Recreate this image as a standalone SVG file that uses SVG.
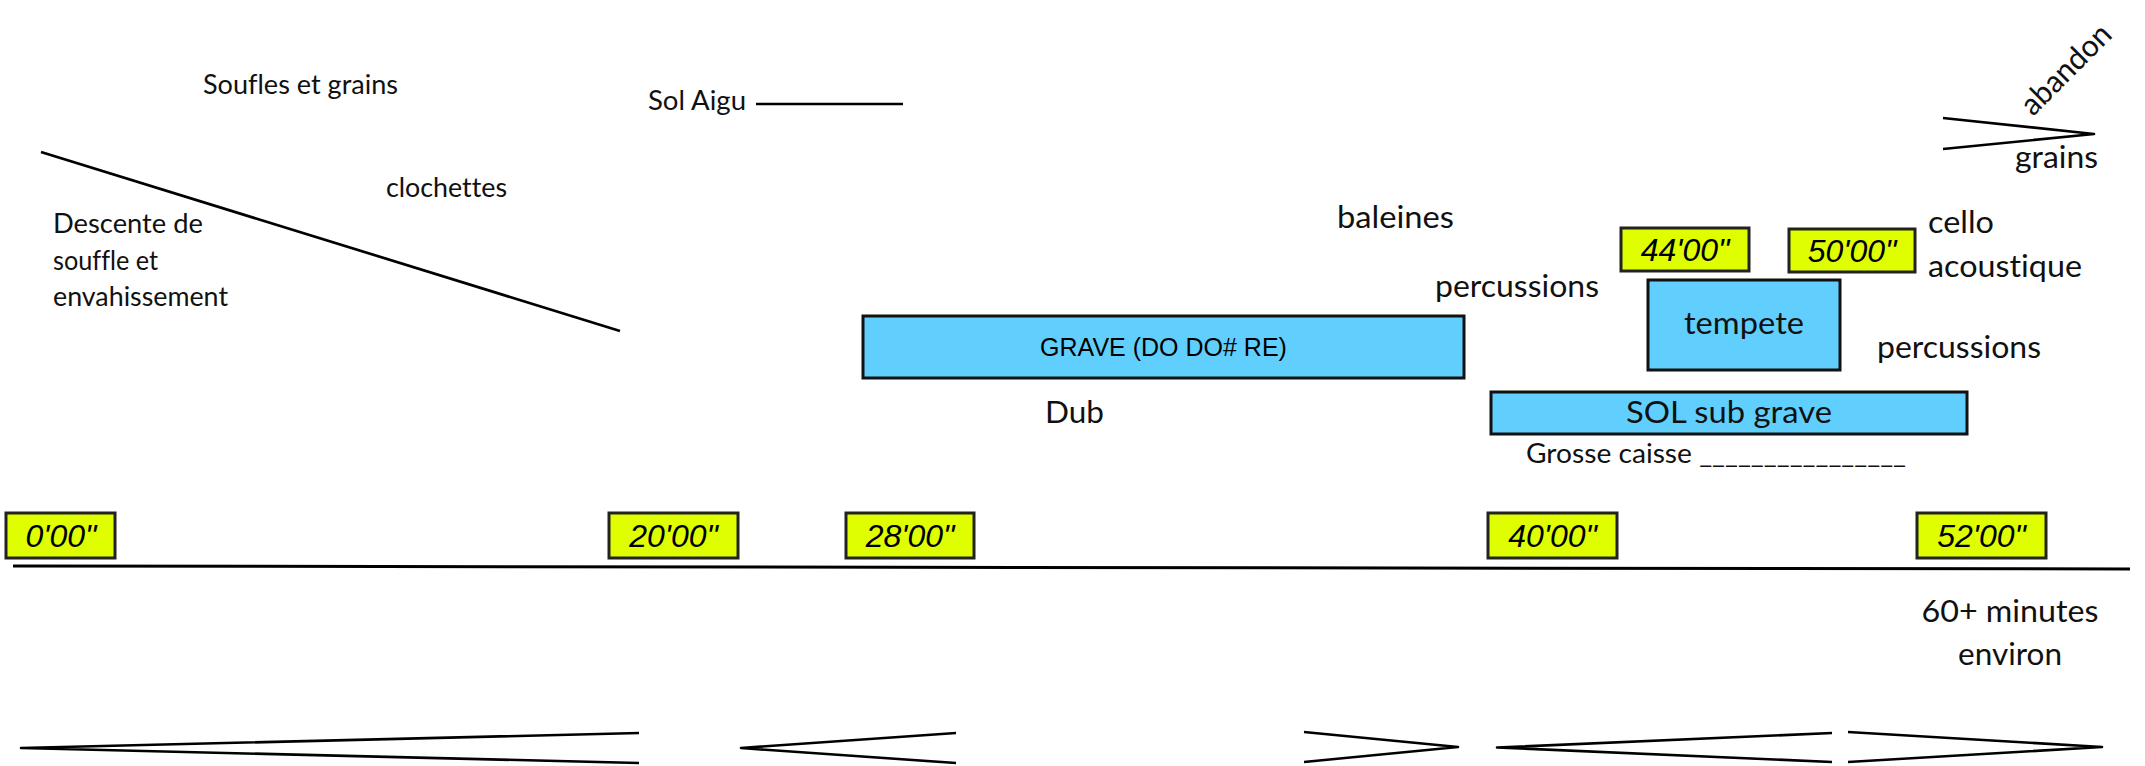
<svg xmlns="http://www.w3.org/2000/svg" width="2145" height="766" viewBox="0 0 2145 766">
<style>
.lbl{font-family:Lato,"Liberation Sans",sans-serif;fill:#111;font-variant-ligatures:none;}
.s{font-size:26px;}
.m{font-size:31px;}
.time{font-family:"Liberation Sans",Arial,sans-serif;font-style:italic;font-size:32px;fill:#000;text-anchor:middle;}
.tbox{fill:#DFFF00;stroke:#222;stroke-width:3;}
.bbox{fill:#61CFFE;stroke:#111;stroke-width:3;}
.ln{fill:none;stroke:#000;stroke-width:2.7;stroke-linecap:butt;}
.hp{fill:none;stroke:#000;stroke-width:2.6;stroke-linejoin:round;stroke-linecap:butt;}
</style>
<rect width="2145" height="766" fill="#fff"/>
<g id="connectors">
  <line class="ln" x1="13" y1="566" x2="2130" y2="569" style="stroke-width:3"/>
  <line class="ln" x1="41" y1="152" x2="620" y2="331"/>
  <line class="ln" x1="756" y1="104" x2="903" y2="104"/>
  <polyline class="hp" points="1943,118 2094,134 1943,149"/>
  <polyline class="hp" points="639,733 21,748 639,763"/>
  <polyline class="hp" points="956,733 741,748 956,763"/>
  <polyline class="hp" points="1304,732 1458,747 1304,762"/>
  <polyline class="hp" points="1832,733 1497,747.5 1832,762"/>
  <polyline class="hp" points="1848,732 2102,747 1848,762"/>
</g>
<g id="t0"><rect class="tbox" x="6" y="513" width="109" height="45"/><text class="time" x="61" y="547">0'00"</text></g>
<g id="t20"><rect class="tbox" x="609" y="513" width="129" height="45"/><text class="time" x="673.5" y="547">20'00"</text></g>
<g id="t28"><rect class="tbox" x="846" y="513" width="128" height="45"/><text class="time" x="910" y="547">28'00"</text></g>
<g id="t40"><rect class="tbox" x="1488" y="513" width="129" height="45"/><text class="time" x="1552.5" y="547">40'00"</text></g>
<g id="t52"><rect class="tbox" x="1917" y="513" width="129" height="45"/><text class="time" x="1981.5" y="547">52'00"</text></g>
<g id="t44"><rect class="tbox" x="1621" y="228" width="128" height="43"/><text class="time" x="1685" y="261">44'00"</text></g>
<g id="t50"><rect class="tbox" x="1789" y="229" width="126" height="43"/><text class="time" x="1852" y="262">50'00"</text></g>
<g id="grave"><rect class="bbox" x="863" y="316" width="601" height="62"/><text x="1163.5" y="356" style="font-family:'Liberation Sans',Arial,sans-serif;font-size:25px;text-anchor:middle;fill:#000">GRAVE (DO DO# RE)</text></g>
<g id="tempete"><rect class="bbox" x="1648" y="280" width="192" height="90"/><text class="lbl m" x="1744" y="334" text-anchor="middle" textLength="120" lengthAdjust="spacingAndGlyphs">tempete</text></g>
<g id="solsub"><rect class="bbox" x="1491" y="392" width="476" height="42"/><text class="lbl m" x="1729" y="423" text-anchor="middle" textLength="206" lengthAdjust="spacingAndGlyphs">SOL sub grave</text></g>
<g id="soufles"><text class="lbl s" x="203" y="94" textLength="195" lengthAdjust="spacingAndGlyphs">Soufles et grains</text></g>
<g id="clochettes"><text class="lbl s" x="386" y="197" textLength="121" lengthAdjust="spacingAndGlyphs">clochettes</text></g>
<g id="descente">
  <text class="lbl s" x="53" y="233" textLength="150" lengthAdjust="spacingAndGlyphs">Descente de</text>
  <text class="lbl s" x="53" y="270" textLength="105" lengthAdjust="spacingAndGlyphs">souffle et</text>
  <text class="lbl s" x="53" y="306" textLength="175" lengthAdjust="spacingAndGlyphs">envahissement</text>
</g>
<g id="solaigu"><text class="lbl s" x="648" y="110" textLength="98" lengthAdjust="spacingAndGlyphs">Sol Aigu</text></g>
<g id="baleines"><text class="lbl m" x="1337" y="228" textLength="117" lengthAdjust="spacingAndGlyphs">baleines</text></g>
<g id="perc1"><text class="lbl m" x="1435" y="297" textLength="164" lengthAdjust="spacingAndGlyphs">percussions</text></g>
<g id="dub"><text class="lbl m" x="1045" y="423" textLength="59" lengthAdjust="spacingAndGlyphs">Dub</text></g>
<g id="grosse"><text class="lbl s" x="1526" y="463" textLength="380" lengthAdjust="spacingAndGlyphs">Grosse caisse ________________</text></g>
<g id="cello">
  <text class="lbl m" x="1928" y="233" textLength="66" lengthAdjust="spacingAndGlyphs">cello</text>
  <text class="lbl m" x="1928" y="277" textLength="154" lengthAdjust="spacingAndGlyphs">acoustique</text>
</g>
<g id="perc2"><text class="lbl m" x="1877" y="358" textLength="164" lengthAdjust="spacingAndGlyphs">percussions</text></g>
<g id="grains"><text class="lbl m" x="2015" y="168" textLength="83" lengthAdjust="spacingAndGlyphs">grains</text></g>
<g id="abandon"><text class="lbl m" transform="translate(2033,117) rotate(-45)" x="0" y="0" textLength="114" lengthAdjust="spacingAndGlyphs">abandon</text></g>
<g id="duree">
  <text class="lbl m" x="2010" y="622" text-anchor="middle" textLength="177" lengthAdjust="spacingAndGlyphs">60+ minutes</text>
  <text class="lbl m" x="2010" y="665" text-anchor="middle" textLength="104" lengthAdjust="spacingAndGlyphs">environ</text>
</g>
</svg>
